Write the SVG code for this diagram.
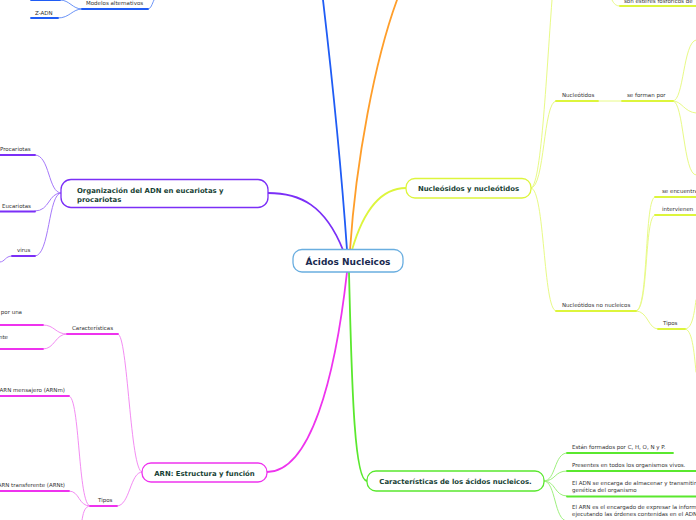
<svg xmlns="http://www.w3.org/2000/svg" width="696" height="520" viewBox="0 0 696 520">
<style>
.t{font-family:"DejaVu Sans",Verdana,sans-serif;font-size:5.5px;fill:#333}
.b{font-family:"DejaVu Sans",Verdana,sans-serif;font-weight:bold;font-size:6.9px;fill:#173f35}
.c{fill:none;stroke-linecap:round}
.main{stroke-width:1.8}
.sub{stroke-width:1}
.ul{stroke-width:1.8}
.blue{stroke:#1f5cf5}.orange{stroke:#ff9e2a}.purple{stroke:#7b2ff7}.yellow{stroke:#ddf53c}.magenta{stroke:#ee33ee}.green{stroke:#5ae82e}
.lpurple{stroke:#a679fa}.lyellow{stroke:#e8fa86}.lmagenta{stroke:#f38cf3}.lgreen{stroke:#9ef07e}.lblue{stroke:#6a93f8}
</style>
<g id="connectors">
<path class="c main blue" d="M347,250 C340,150 330,60 323,0"/>
<path class="c main orange" d="M350,250 C356,160 375,60 397,0"/>
<path class="c main purple" d="M343,250 C325,205 300,193 268,193"/>
<path class="c main yellow" d="M352,250 C365,205 385,188 406,188"/>
<path class="c main magenta" d="M347,272 C335,380 310,472 267,472"/>
<path class="c main green" d="M349,272 C352,400 355,481 367,481"/>
<!-- blue subtree -->
<path class="c sub lblue" d="M148,9 C151,9 152,4 154,0"/>
<path class="c sub lblue" d="M82,9 C72,9 70,0 60,0"/>
<path class="c sub lblue" d="M82,9 C72,9 70,18 58,18"/>
<!-- purple subtree -->
<path class="c sub lpurple" d="M61,193 C48,193 50,155 35,155"/>
<path class="c sub lpurple" d="M61,193 C48,193 50,211 35,211"/>
<path class="c sub lpurple" d="M61,193 C48,193 50,256 35,256"/>
<path class="c sub lpurple" d="M12,256 C5,256 5,262 0,262"/>
<!-- magenta subtree -->
<path class="c sub lmagenta" d="M142,472 C130,472 128,334 118,334"/>
<path class="c sub lmagenta" d="M142,472 C130,472 130,506 117,506"/>
<path class="c sub lmagenta" d="M67,334 C55,334 55,325 43,325"/>
<path class="c sub lmagenta" d="M67,334 C55,334 55,349 43,349"/>
<path class="c sub lmagenta" d="M90,506 C78,506 80,396 69,396"/>
<path class="c sub lmagenta" d="M90,506 C78,506 80,491 69,491"/>
<path class="c sub lmagenta" d="M90,506 C84,506 83,515 82,520"/>
<!-- yellow subtree -->
<path class="c sub lyellow" d="M531,188 C541,188 546,80 552,0"/>
<path class="c sub lyellow" d="M531,188 C545,188 543,101 556,101"/>
<path class="c sub lyellow" d="M531,188 C545,188 543,311 556,311"/>
<path class="c sub lyellow" d="M612,0 C614,4 616,6 620,6"/>
<path class="c sub lyellow" d="M598,101 H622"/>
<path class="c sub lyellow" d="M673,101 C684,101 683,42 696,40"/>
<path class="c sub lyellow" d="M673,101 C682,101 684,112 696,113"/>
<path class="c sub lyellow" d="M673,101 C684,101 683,175 696,175"/>
<path class="c sub lyellow" d="M636,311 C649,311 644,197 655,197"/>
<path class="c sub lyellow" d="M636,311 C649,311 644,215 655,215"/>
<path class="c sub lyellow" d="M636,311 C648,311 648,329 658,329"/>
<path class="c sub lyellow" d="M685,329 C692,329 694,315 696,300"/>
<path class="c sub lyellow" d="M685,329 C692,329 694,350 696,372"/>
<!-- green subtree -->
<path class="c sub lgreen" d="M544,481 C556,481 554,453 567,453"/>
<path class="c sub lgreen" d="M544,481 C556,481 554,471 567,471"/>
<path class="c sub lgreen" d="M544,481 C556,481 554,496 567,496"/>
<path class="c sub lgreen" d="M544,481 C556,481 554,521 567,521"/>
</g>
<g id="center">
<rect x="293" y="249.5" width="110" height="22.5" rx="9" fill="#fff" stroke="#6aaee0" stroke-width="1.3"/>
<text x="348" y="264.5" text-anchor="middle" style="font-family:'DejaVu Sans',Verdana,sans-serif;font-weight:bold;font-size:9px;fill:#1a2a50">Ácidos Nucleicos</text>
</g>
<g id="n-organizacion">
<rect x="61" y="179.5" width="207" height="28" rx="10" fill="#fff" stroke="#7b2ff7" stroke-width="1.3"/>
<text class="b" x="77" y="193">Organización del ADN en eucariotas y</text>
<text class="b" x="77" y="201.5">procariotas</text>
</g>
<g id="n-nucleosidos">
<rect x="406" y="178.5" width="125" height="19.5" rx="9" fill="#fff" stroke="#ddf53c" stroke-width="1.3"/>
<text class="b" x="468.5" y="191" text-anchor="middle">Nucleósidos y nucleótidos</text>
</g>
<g id="n-arn">
<rect x="142" y="463" width="125" height="19" rx="9" fill="#fff" stroke="#ee33ee" stroke-width="1.3"/>
<text class="b" x="204.5" y="475.5" text-anchor="middle">ARN: Estructura y función</text>
</g>
<g id="n-caracteristicas">
<rect x="367" y="471" width="177" height="20" rx="9" fill="#fff" stroke="#5ae82e" stroke-width="1.3"/>
<text class="b" x="455.5" y="484" text-anchor="middle">Características de los ácidos nucleicos.</text>
</g>
<g id="n-modelos">
<path class="c ul blue" d="M82,9 H148"/>
<text class="t" x="86" y="5">Modelos alternativos</text>
</g>
<g id="n-top-left">
<path class="c ul blue" d="M31,0 H60"/>
</g>
<g id="n-zadn">
<path class="c ul blue" d="M31,18 H58"/>
<text class="t" x="35" y="14.5">Z-ADN</text>
</g>
<g id="n-procariotas">
<path class="c ul purple" d="M0,155 H35"/>
<text class="t" x="0" y="151">Procariotas</text>
</g>
<g id="n-eucariotas">
<path class="c ul purple" d="M0,211.5 H35"/>
<text class="t" x="2" y="208">Eucariotas</text>
</g>
<g id="n-virus">
<path class="c ul purple" d="M12,256 H35"/>
<text class="t" x="17" y="252">virus</text>
</g>
<g id="n-carac-arn">
<path class="c ul magenta" d="M67,334 H118"/>
<text class="t" x="72" y="330">Características</text>
</g>
<g id="n-por-una">
<path class="c ul magenta" d="M0,325 H43"/>
<text class="t" x="22" y="314" text-anchor="end">por una</text>
</g>
<g id="n-nte">
<path class="c ul magenta" d="M0,349 H43"/>
<text class="t" x="8" y="338.5" text-anchor="end">nte</text>
</g>
<g id="n-tipos-arn">
<path class="c ul magenta" d="M90,506 H117"/>
<text class="t" x="98" y="501.5">Tipos</text>
</g>
<g id="n-arnm">
<path class="c ul magenta" d="M0,396 H69"/>
<text class="t" x="65" y="392" text-anchor="end">ARN mensajero (ARNm)</text>
</g>
<g id="n-arnt">
<path class="c ul magenta" d="M0,491 H69"/>
<text class="t" x="65" y="487" text-anchor="end">ARN transferente (ARNt)</text>
</g>
<g id="n-esteres">
<path class="c ul yellow" d="M620,6 H696"/>
<text class="t" x="624" y="2.5">son ésteres fosfóricos de</text>
</g>
<g id="n-nucleotidos">
<path class="c ul yellow" d="M556,101 H598"/>
<text class="t" x="562" y="96.5">Nucleótidos</text>
</g>
<g id="n-seforman">
<path class="c ul yellow" d="M622,101 H673"/>
<text class="t" x="627" y="96.5">se forman por</text>
</g>
<g id="n-nonucleicos">
<path class="c ul yellow" d="M556,311 H636"/>
<text class="t" x="562" y="307">Nucleótidos no nucleicos</text>
</g>
<g id="n-seencuentra">
<path class="c ul yellow" d="M655,197 H696"/>
<text class="t" x="662" y="192.5">se encuentran</text>
</g>
<g id="n-intervienen">
<path class="c ul yellow" d="M655,215 H696"/>
<text class="t" x="662" y="210.5">intervienen</text>
</g>
<g id="n-tipos-nuc">
<path class="c ul yellow" d="M658,329 H685"/>
<text class="t" x="663" y="325">Tipos</text>
</g>
<g id="n-formados">
<path class="c ul green" d="M567,453 H673"/>
<text class="t" x="572" y="448.5">Están formados por C, H, O, N y P.</text>
</g>
<g id="n-presentes">
<path class="c ul green" d="M567,471 H696"/>
<text class="t" x="572" y="466.5">Presentes en todos los organismos vivos.</text>
</g>
<g id="n-adn">
<path class="c ul green" d="M567,496.5 H696"/>
<text class="t" x="572" y="484.5">El ADN se encarga de almacenar y transmitir la información</text>
<text class="t" x="572" y="491.5">genética del organismo</text>
</g>
<g id="n-arn-info">
<path class="c ul green" d="M567,521 H696"/>
<text class="t" x="572" y="509">El ARN es el encargado de expresar la información</text>
<text class="t" x="572" y="516">ejecutando las órdenes contenidas en el ADN</text>
</g>
</svg>
